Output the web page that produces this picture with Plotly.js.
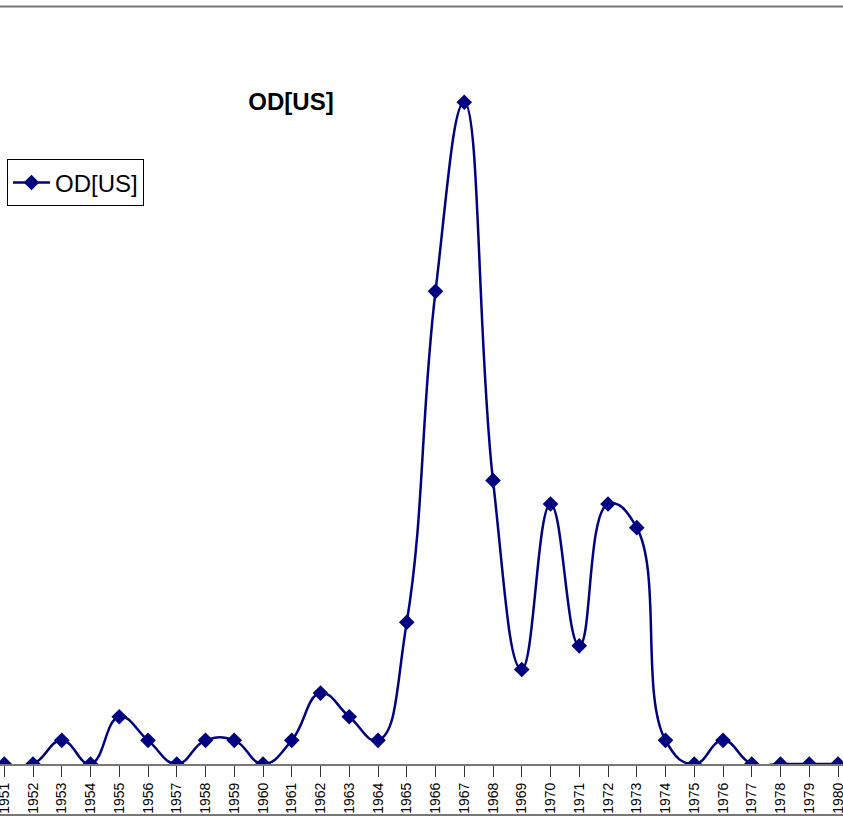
<!DOCTYPE html>
<html>
<head>
<meta charset="utf-8">
<script src="https://cdn.plot.ly/plotly-3.0.1.min.js"></script>
<style>html,body{margin:0;padding:0;background:#fff;}#chart{width:843px;height:819px;}</style>
</head>
<body>
<div id="chart"></div>
<script>
const years = ["1951","1952","1953","1954","1955","1956","1957","1958","1959","1960",
  "1961","1962","1963","1964","1965","1966","1967","1968","1969","1970",
  "1971","1972","1973","1974","1975","1976","1977","1978","1979","1980"];
const odUS = [0,0,1,0,2,1,0,1,1,0,
  1,3,2,1,6,20,28,12,4,11,
  5,11,10,1,0,1,0,0,0,0];
const seriesName = "OD[US]";
const chartTitle = "OD[US]";

const W = 843, H = 819;
const plotTop = 54.5, plotBottom = 764;
const ph = plotBottom - plotTop;
const trace = {
  x: years, y: odUS, name: seriesName, type: 'scatter', mode: 'lines+markers',
  line: {color: '#000080', width: 2.5, shape: 'spline', smoothing: 1.3},
  marker: {symbol: 'diamond', size: 12, color: '#000080'}
};
const layout = {
  width: W, height: H,
  margin: {l: 0, r: 0, t: plotTop, b: H - plotBottom, pad: 0},
  paper_bgcolor: '#fff', plot_bgcolor: '#fff',
  font: {family: 'Liberation Sans, Arial, sans-serif', color: '#000'},
  title: {text: '<b>' + chartTitle + '</b>', font: {size: 24, family: 'Liberation Sans, Arial, sans-serif', color: '#000'},
    x: 291 / W, xref: 'container', xanchor: 'center', y: 1 - 102 / H, yref: 'container', yanchor: 'middle'},
  showlegend: true,
  legend: {x: 7 / W, xanchor: 'left', y: (plotBottom - 159) / ph, yanchor: 'top',
    bordercolor: '#000', borderwidth: 1, bgcolor: '#fff', itemwidth: 37,
    font: {size: 24, family: 'Liberation Sans, Arial, sans-serif', color: '#000'}},
  xaxis: {type: 'category', range: [-4.25 / 28.75, 29 + 5 / 28.75],
    showline: true, linecolor: '#777', linewidth: 2, showgrid: false, zeroline: false,
    ticks: 'outside', ticklen: 11, tickcolor: '#333', tickwidth: 1,
    tickangle: -90, tickfont: {size: 14, family: 'Liberation Sans, Arial, sans-serif', color: '#000'}},
  yaxis: {range: [0, 30], visible: false, showgrid: false, zeroline: false, fixedrange: true},
  shapes: [
    {type: 'line', xref: 'paper', yref: 'paper', x0: 0, x1: 1, y0: (plotBottom - 6) / ph, y1: (plotBottom - 6) / ph,
      line: {color: '#777', width: 2}},
    {type: 'line', xref: 'paper', yref: 'paper', x0: 0, x1: 1, y0: (plotBottom - 815) / ph, y1: (plotBottom - 815) / ph,
      line: {color: '#777', width: 2}}
  ]
};
Plotly.newPlot('chart', [trace], layout, {displayModeBar: false, staticPlot: true});
</script>
</body>
</html>
